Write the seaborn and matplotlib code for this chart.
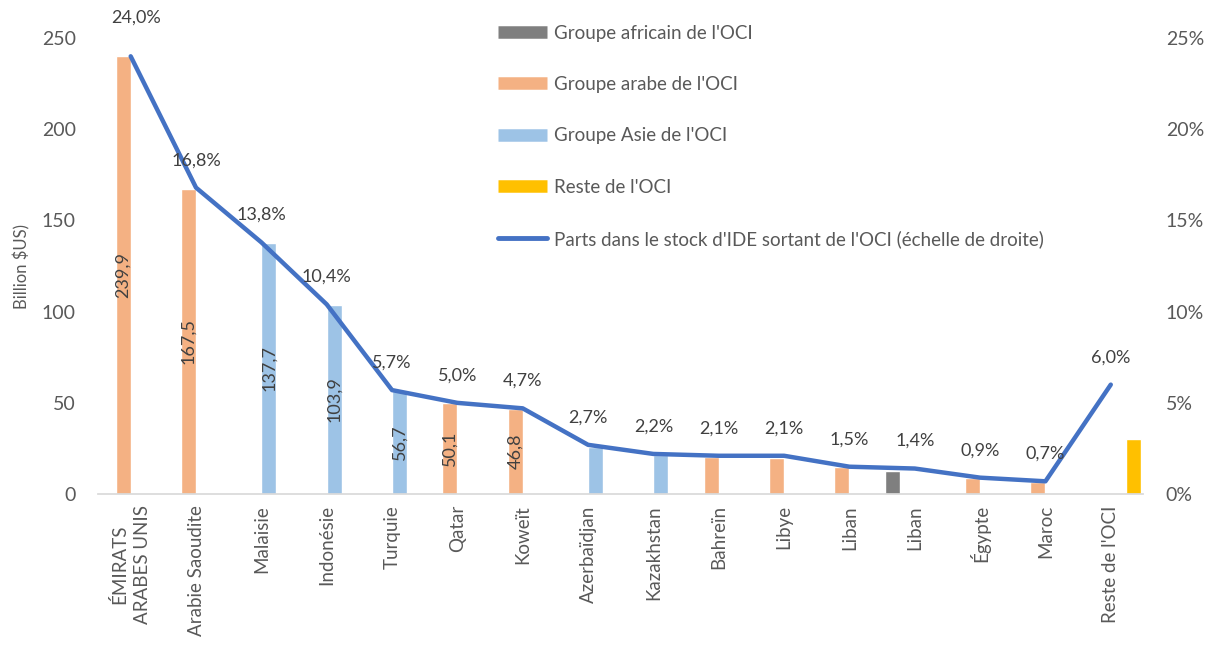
import numpy as np
import pandas as pd
import matplotlib.pyplot as plt
from matplotlib.lines import Line2D
from matplotlib.ticker import FuncFormatter
import seaborn as sns

sns.set_theme(style='white')
plt.rcParams['font.family'] = ['Lato', 'DejaVu Sans']

# --- data ---
pays = ["ÉMIRATS\nARABES UNIS", "Arabie Saoudite", "Malaisie", "Indonésie", "Turquie",
        "Qatar", "Koweït", "Azerbaïdjan", "Kazakhstan", "Bahreïn", "Libye", "Liban",
        "Liban", "Égypte", "Maroc", "Reste de l'OCI"]
stock = [239.9, 167.5, 137.7, 103.9, 56.7, 50.1, 46.8, 25.9, 21.5, 20.1, 20.0,
         15.0, 12.5, 8.6, 6.5, 30.0]
groupe = ["arabe", "arabe", "asie", "asie", "asie", "arabe", "arabe", "asie", "asie",
          "arabe", "arabe", "arabe", "africain", "arabe", "arabe", "reste"]
parts = [24.0, 16.8, 13.8, 10.4, 5.7, 5.0, 4.7, 2.7, 2.2, 2.1, 2.1, 1.5, 1.4, 0.9, 0.7, 6.0]

groupes = ["africain", "arabe", "asie", "reste"]
noms_groupes = ["Groupe africain de l'OCI", "Groupe arabe de l'OCI",
                "Groupe Asie de l'OCI", "Reste de l'OCI"]
couleurs = {"africain": "#7F7F7F", "arabe": "#F4B183", "asie": "#9DC3E6", "reste": "#FFC000"}
bleu = '#4472C4'
gris_txt = '#595959'

df = pd.DataFrame({'pos': np.arange(len(pays)), 'stock': stock, 'groupe': groupe})

fig, ax = plt.subplots(figsize=(12.1, 6.45), dpi=100)
fig.subplots_adjust(left=0.081, right=0.945, top=0.941, bottom=0.234)

sns.barplot(data=df, x='pos', y='stock', hue='groupe', hue_order=groupes,
            palette=couleurs, dodge=True, width=0.92, saturation=1,
            legend=False, ax=ax)

# value labels inside the big bars
for p in ax.patches:
    h = p.get_height()
    if h > 40:
        ax.text(p.get_x() + p.get_width() / 2, h / 2, f"{h:.1f}".replace('.', ','),
                rotation=90, ha='center', va='center', fontsize=13, color='#404040')

ax.set_ylim(0, 250)
ax.set_xlim(-0.5, len(pays) - 0.5)
ax.set_yticks(range(0, 251, 50))
ax.set_xticks(range(len(pays)))
ax.set_xticklabels(pays, rotation=90, va='top', ha='center', fontsize=13.5, color=gris_txt,
                   linespacing=1.35)
ax.tick_params(axis='y', labelsize=14, colors=gris_txt, length=0, pad=16)
ax.tick_params(axis='x', length=0, pad=8)
ax.set_xlabel('')
ax.set_ylabel('Billion $US)', fontsize=12, color=gris_txt, labelpad=8)
for s in ['top', 'right', 'left']:
    ax.spines[s].set_visible(False)
ax.spines['bottom'].set_color('#D9D9D9')

# right axis: shares line
ax2 = ax.twinx()
sns.lineplot(x=df['pos'], y=parts, color=bleu, linewidth=3.2, ax=ax2,
             solid_capstyle='round')
ax2.set_ylim(0, 25)
ax2.set_yticks(range(0, 26, 5))
ax2.yaxis.set_major_formatter(FuncFormatter(lambda v, _: f"{v:.0f}%"))
ax2.tick_params(axis='y', labelsize=14, colors=gris_txt, length=0, pad=16)
ax2.set_ylabel('')
for s in ax2.spines.values():
    s.set_visible(False)

for i, v in enumerate(parts):
    dx = 4 if i == 0 else 0
    ax2.annotate(f"{v:.1f}%".replace('.', ','), (i, v), xytext=(dx, 14 if i else 22),
                 textcoords='offset points', ha='center', va='bottom',
                 fontsize=13, color='#404040')

# legend
handles = [Line2D([], [], color=couleurs[g], lw=9, solid_capstyle='butt') for g in groupes]
handles.append(Line2D([], [], color=bleu, lw=3.5, solid_capstyle='round'))
labels = noms_groupes + ["Parts dans le stock d'IDE sortant de l'OCI (échelle de droite)"]
leg = fig.legend(handles, labels, loc='upper left', bbox_to_anchor=(0.398, 0.988),
                 frameon=False, fontsize=13.5, labelspacing=1.83, handlelength=2.6,
                 handletextpad=0.35)
for t in leg.get_texts():
    t.set_color(gris_txt)

fig.savefig('out.png', dpi=100)
